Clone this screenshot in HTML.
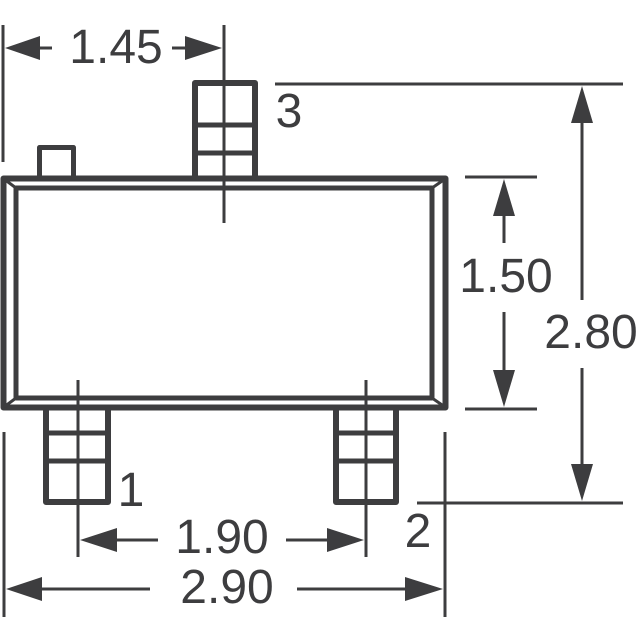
<!DOCTYPE html>
<html><head><style>html,body{margin:0;padding:0;background:#fff}svg{display:block}</style></head>
<body>
<svg width="640" height="640" viewBox="0 0 640 640" xmlns="http://www.w3.org/2000/svg">
<g stroke="#3d3d3f" fill="none" stroke-linejoin="round">
  <!-- body -->
  <rect x="3.5" y="178.5" width="442" height="229" stroke-width="6"/>
  <rect x="16" y="188" width="416" height="210" stroke-width="5"/>
  <line x1="4" y1="179" x2="16" y2="188" stroke-width="3"/>
  <line x1="445" y1="179" x2="432" y2="188" stroke-width="3"/>
  <line x1="4" y1="407" x2="16" y2="398" stroke-width="3"/>
  <line x1="445" y1="407" x2="432" y2="398" stroke-width="3"/>
  <!-- tab -->
  <path d="M39.5 176 V147.5 H73.5 V176" stroke-width="5"/>
  <!-- pin 3 -->
  <path d="M195 176 V83 H255 V176" stroke-width="6"/>
  <line x1="195" y1="125" x2="255" y2="125" stroke-width="5"/>
  <line x1="195" y1="153" x2="255" y2="153" stroke-width="5"/>
  <!-- pin 1 -->
  <path d="M46 410 V502 H108 V410" stroke-width="6"/>
  <line x1="46" y1="433" x2="108" y2="433" stroke-width="5"/>
  <line x1="46" y1="461" x2="108" y2="461" stroke-width="5"/>
  <!-- pin 2 -->
  <path d="M336 410 V502 H396 V410" stroke-width="6"/>
  <line x1="336" y1="433" x2="396" y2="433" stroke-width="5"/>
  <line x1="336" y1="461" x2="396" y2="461" stroke-width="5"/>
  <!-- extension lines -->
  <g stroke-width="3">
    <line x1="3" y1="25" x2="3" y2="162"/>
    <line x1="224" y1="25" x2="224" y2="223"/>
    <line x1="78" y1="380" x2="78" y2="557"/>
    <line x1="366" y1="380" x2="366" y2="557"/>
    <line x1="4" y1="432" x2="4" y2="617"/>
    <line x1="445" y1="432" x2="445" y2="617"/>
    <line x1="275" y1="84" x2="623" y2="84"/>
    <line x1="417" y1="503" x2="623" y2="503"/>
    <line x1="465" y1="177" x2="537" y2="177"/>
    <line x1="465" y1="409" x2="537" y2="409"/>
    <!-- dim lines -->
    <line x1="30" y1="48" x2="52" y2="48"/>
    <line x1="172" y1="48" x2="195" y2="48"/>
    <line x1="100" y1="540" x2="158" y2="540"/>
    <line x1="286" y1="540" x2="340" y2="540"/>
    <line x1="30" y1="589" x2="150" y2="589"/>
    <line x1="297" y1="589" x2="420" y2="589"/>
    <line x1="504" y1="200" x2="504" y2="243"/>
    <line x1="504" y1="312" x2="504" y2="385"/>
    <line x1="582" y1="110" x2="582" y2="300"/>
    <line x1="582" y1="368" x2="582" y2="480"/>
  </g>
</g>
<g fill="#3d3d3f">
  <polygon points="5,48 40,36 40,60"/>
  <polygon points="222,48 185,36 185,60"/>
  <polygon points="80,540 117,528 117,552"/>
  <polygon points="364,540 327,528 327,552"/>
  <polygon points="6,589 42,577 42,601"/>
  <polygon points="443,589 405,577 405,601"/>
  <polygon points="504,179 493,216 515,216"/>
  <polygon points="504,407 493,370 515,370"/>
  <polygon points="582,86 571,123 593,123"/>
  <polygon points="582,501 571,464 593,464"/>
</g>
<g fill="#3d3d3f" font-family="Liberation Sans, Arial, sans-serif" font-size="48">
  <text x="116" y="63" text-anchor="middle">1.45</text>
  <text x="289" y="127" text-anchor="middle">3</text>
  <text x="506" y="292" text-anchor="middle">1.50</text>
  <text x="591" y="348" text-anchor="middle">2.80</text>
  <text x="131" y="506" text-anchor="middle">1</text>
  <text x="418" y="547" text-anchor="middle">2</text>
  <text x="222" y="553" text-anchor="middle">1.90</text>
  <text x="227" y="603" text-anchor="middle">2.90</text>
</g>
</svg>
</body></html>
